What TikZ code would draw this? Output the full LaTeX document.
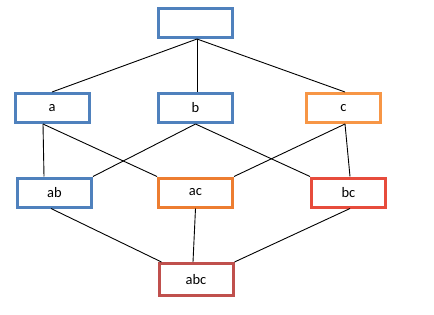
\documentclass[tikz,border=0pt]{standalone}
\usepackage{fontspec}
\setmainfont{Carlito}
\definecolor{cblue}{RGB}{79,129,189}
\definecolor{corange}{RGB}{247,150,70}
\definecolor{cdorange}{RGB}{237,125,49}
\definecolor{cred}{RGB}{231,76,60}
\definecolor{cdred}{RGB}{192,80,77}
\tikzset{
  setbox/.style={draw=#1, line width=3pt, fill=white, minimum width=74pt, minimum height=29pt, inner sep=0pt, font=\fontsize{14.5}{16}\selectfont},
  link/.style={line width=0.9pt, black}
}
\begin{document}
\begin{tikzpicture}[x=1pt,y=-1pt]
\useasboundingbox (0,0) rectangle (434,314);
\node[setbox=cblue] (top) at (195.5,23) {};
\node[setbox=cblue] (a) at (52,108) {a};
\node[setbox=cblue] (b) at (195.5,108) {b};
\node[setbox=corange] (c) at (343.5,108) {c};
\node[setbox=cblue] (ab) at (54.5,192.5) {ab};
\node[setbox=cdorange] (ac) at (195.5,192.5) {ac};
\node[setbox=cred] (bc) at (348.5,192.5) {bc};
\node[setbox=cdred, minimum height=32pt] (abc) at (196,279.5) {abc};
\begin{scope}[on background layer/.style={}]
\end{scope}
\draw[link] ([xshift=1.5pt]top.south) -- (a.north);
\draw[link] ([xshift=1.5pt]top.south) -- ([xshift=1.5pt]b.north);
\draw[link] ([xshift=1.5pt]top.south) -- ([xshift=1.5pt]c.north);
\draw[link] ([xshift=-9pt]a.south) -- ([xshift=-10.5pt]ab.north);
\draw[link] ([xshift=-9pt]a.south) -- (ac.north west);
\draw[link] (b.south) -- (ab.north east);
\draw[link] (b.south) -- (bc.north west);
\draw[link] ([xshift=1.5pt]c.south) -- (ac.north east);
\draw[link] ([xshift=1.5pt]c.south) -- ([xshift=1.5pt]bc.north);
\draw[link] ([xshift=-3.5pt]ab.south) -- ([xshift=4pt]abc.north west);
\draw[link] (ac.south) -- ([xshift=-3pt]abc.north);
\draw[link] ([xshift=1.5pt]bc.south) -- (abc.north east);
\end{tikzpicture}
\end{document}
